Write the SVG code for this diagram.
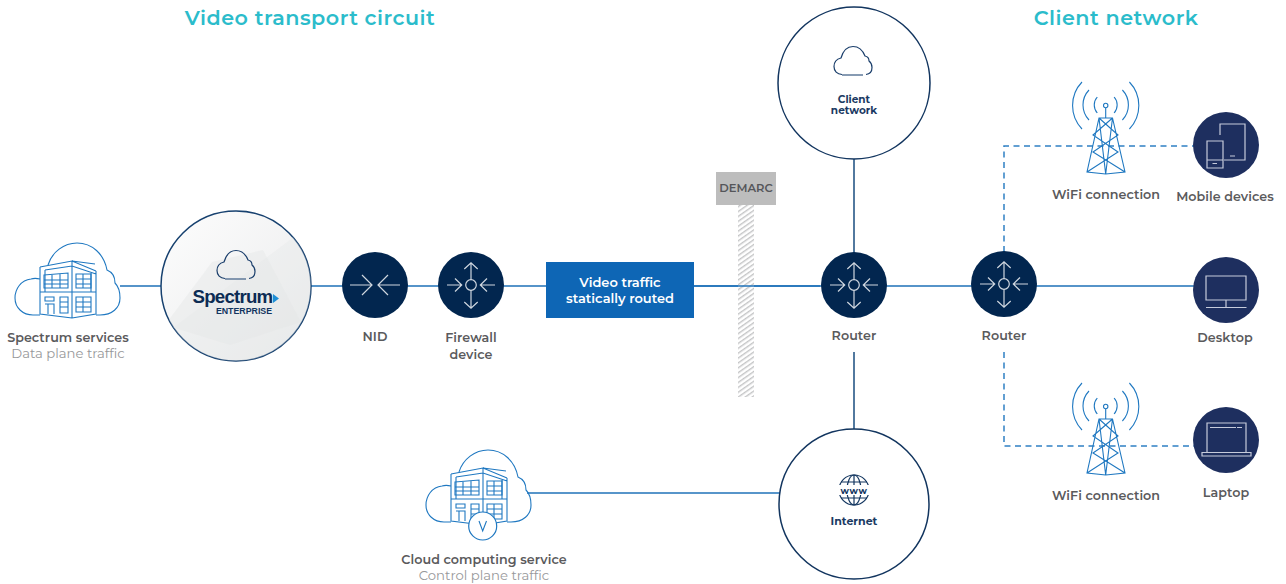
<svg xmlns="http://www.w3.org/2000/svg" width="1286" height="584" viewBox="0 0 1286 584">
<style>
text{font-family:"Montserrat","Inter","Open Sans","Liberation Sans",sans-serif;text-anchor:middle}
.h{font-size:20.700px;font-weight:600;fill:#2bbccb;letter-spacing:.5px}
.l{font-size:12.700px;font-weight:600;fill:#5a5a5c;letter-spacing:.05px}
.s{font-size:13.200px;font-weight:400;fill:#97989a}
.n{font-size:10.500px;font-weight:700;fill:#1b3a63}
.b{font-size:13px;font-weight:600;fill:#fff}
.wire{fill:none;stroke:#1f72b8;stroke-width:1.500}
.dash{fill:none;stroke:#2f80c4;stroke-width:1.500;stroke-dasharray:6 4.500}
.stem{fill:none;stroke:#1a4d80;stroke-width:1.500}
.ring{fill:#fff;stroke:#12355f;stroke-width:1.500}
.dark{fill:#02264f}
.navy{fill:#1e2f5f}
.ico{fill:none;stroke:#cfd6df;stroke-width:1.200}
.dev{fill:none;stroke:#c6cbdb;stroke-width:1.200}
.bl{fill:none;stroke:#1f78c1;stroke-width:1.100}
.cl{fill:none;stroke:#1a3e6b;stroke-width:1.200}
</style>
<defs>
<linearGradient id="sp" x1="0" y1="0" x2="1" y2="1"><stop offset="0" stop-color="#fdfdfd"/><stop offset="1" stop-color="#e9eaeb"/></linearGradient>
<clipPath id="spc"><circle cx="236" cy="286" r="75"/></clipPath>
<pattern id="hatch" width="4" height="4" patternUnits="userSpaceOnUse" patternTransform="rotate(-35)"><rect width="4" height="4" fill="#fff"/><rect width="4" height="1.400" fill="#c4c5c6"/></pattern>
<symbol id="building" overflow="visible" viewBox="0 0 1286 584" width="1286" height="584">
<path class="bl" d="M40 279C36 278 34 278 31 279C21 280 15 289 15 298C15 308 23 315 33 315L40 315M48 265C52 252 64 243 77 243C92 243 104 254 107 270C112 272 115 277 115 283C119 287 120 292 120 298C120 308 112 315 100 315L96 315"/>
<path class="bl" d="M40 267L72 261L96 271M72 261L95 264M40 267V314L72 318L96 314V271M45 270L72 266L96 274M40 292H96M72 261V318M45 270V292M91 273V292"/>
<path class="bl" d="M44 275L68 273V288H44ZM44 280H68M44 284H68M52 274V288M60 274V288M76 274H91V288H76ZM76 279H91M76 284H91M83 274V288M45 297H54V301H45ZM45 304H54V314M48 304V314M60 297H68V313H60ZM60 302H68M60 307H68M76 297H91V312H76ZM76 302H91M76 307H91M83 297V312"/>
</symbol>
<symbol id="tower" overflow="visible" viewBox="0 0 1286 584" width="1286" height="584">
<circle class="bl" cx="1105.700" cy="105.500" r="2.200"/>
<path class="bl" d="M1105.700 108V118M1099 118H1112.500L1125 172L1105.700 174L1087 172ZM1099 118L1118 135L1093 152L1125 172M1112.500 118L1093 135L1118 152L1087 172M1099 118L1105.700 174L1112.500 118"/>
<path class="bl" d="M1097.300 97A12 12 0 0 0 1097.300 113M1114.100 97A12 12 0 0 1 1114.100 113M1089 90A21.750 21.750 0 0 0 1089 120M1122.400 90A21.750 21.750 0 0 1 1122.400 120M1082 82A34 34 0 0 0 1082 129M1129.400 82A34 34 0 0 1 1129.400 129"/>
</symbol>
<symbol id="nid" overflow="visible" viewBox="0 0 66 66" width="66" height="66">
<path class="ico" d="M8 33H30M20 23L30 33L20 43M58 33H36M46 23L36 33L46 43"/>
</symbol>
<symbol id="rt" overflow="visible" viewBox="0 0 66 66" width="66" height="66">
<circle class="ico" cx="33" cy="33" r="5.300"/>
<path class="ico" d="M9 33H23.700M17 26.500L23.700 33L17 39.500M57 33H42.300M49 26.500L42.300 33L49 39.500M33 11V27.700M26.300 17L33 10.700L39.700 17M33 38.300V56M26.300 50L33 56.300L39.700 50"/>
</symbol>
<symbol id="cloud" overflow="visible" viewBox="0 0 41 31" width="41" height="31">
<path class="cl" d="M9 29.500C4 29.500 1 26 1 21.500C1 17 4 14 8 13C10 6 14.500 1.500 20 1.500C26 1.500 30 6 32 11C34.500 11.500 36 13.500 36 16C38 17.500 39 20 39 22.500C39 26 37 29 33 29.500"/>
<path fill="none" stroke="#5f7a9a" stroke-width="1.500" d="M9 30H30"/>
</symbol>
</defs>
<rect width="1286" height="584" fill="#fff"/>
<g id="connectors">
<path class="wire" d="M120 286H162M310 286H1195"/>
<path class="stem" d="M854 158V254M854 352V430"/>
<path class="wire" d="M527 493H780"/>
<path class="dash" d="M1004 252V146H1195M1004 352V446H1195"/>
</g>
<g id="demarc">
<rect x="738" y="205" width="16" height="192" fill="url(#hatch)"/>
<path d="M694 286H820" class="wire"/>
<rect x="716" y="172" width="60" height="33" fill="#bdbdbd"/>
<text x="746" y="192" style="font-size:11.500px;font-weight:600;fill:#55565a">DEMARC</text>
</g>
<g id="title-video"><text class="h" x="310" y="25">Video transport circuit</text></g>
<g id="title-client"><text class="h" x="1116" y="25">Client network</text></g>
<g id="spectrum-services">
<use href="#building"/>
<text class="l" x="68" y="342">Spectrum services</text>
<text class="s" x="68" y="358">Data plane traffic</text>
</g>
<g id="spectrum-enterprise">
<circle cx="236" cy="286" r="75" fill="url(#sp)" stroke="#17416f" stroke-width="1.500"/>
<g clip-path="url(#spc)"><path d="M150 345L290 240L320 205L320 370L200 370Z" fill="#e6e7e8" opacity=".35"/><path d="M212 262L263 250L301 322L230 345L165 325Z" fill="#e4e5e6" opacity=".4"/></g>
<use href="#cloud" x="216" y="249"/>
<text x="232.500" y="303" style="font-family:'Liberation Sans',sans-serif;font-size:18.700px;font-weight:700;fill:#0c2c54;letter-spacing:-.8px">Spectrum</text>
<path d="M273 294L279 298.500L273 303Z" fill="#1f8fd6"/>
<text x="244" y="314" style="font-family:'Liberation Sans',sans-serif;font-size:8.800px;font-weight:700;fill:#12355f">ENTERPRISE</text>
</g>
<g id="nid-node"><circle class="dark" cx="375" cy="285" r="33"/><use href="#nid" x="342" y="252"/><text class="l" x="375" y="341">NID</text></g>
<g id="firewall"><circle class="dark" cx="471" cy="285" r="33"/><use href="#rt" x="438" y="252"/><text class="l" x="471" y="342">Firewall</text><text class="l" x="471" y="359">device</text></g>
<g id="video-traffic"><rect x="546" y="262" width="148" height="56" fill="#0e66b5"/><text class="b" x="620" y="287">Video traffic</text><text class="b" x="620" y="303">statically routed</text></g>
<g id="client-network"><circle class="ring" cx="854" cy="83" r="76"/><use href="#cloud" x="833" y="45"/><text class="n" x="854" y="103">Client</text><text class="n" x="854" y="114">network</text></g>
<g id="router-1"><circle class="dark" cx="854" cy="285" r="33"/><use href="#rt" x="821" y="252"/><text class="l" x="854" y="340">Router</text></g>
<g id="router-2"><circle class="dark" cx="1004" cy="284" r="33"/><use href="#rt" x="971" y="251"/><text class="l" x="1004" y="340">Router</text></g>
<g id="internet"><circle class="ring" cx="854" cy="504" r="75"/>
<circle cx="854" cy="490" r="15" fill="none" stroke="#12355f" stroke-width="1.200"/><ellipse cx="854" cy="490" rx="7" ry="15" fill="none" stroke="#12355f" stroke-width="1.200"/><path d="M854 475V505M841 482H867M841 498H867" stroke="#12355f" stroke-width="1.200" fill="none"/><rect x="838" y="485" width="32" height="10" fill="#fff"/><text x="854" y="494" style="font-size:9px;font-weight:700;fill:#12355f;letter-spacing:.6px">www</text>
<text class="n" x="854" y="525" style="font-size:11px">Internet</text></g>
<g id="cloud-computing"><use href="#building" x="411" y="207"/><circle cx="482.700" cy="526" r="14" fill="#fff" stroke="#1f78c1" stroke-width="1.200"/><path class="bl" d="M479 521L482.700 531L486.500 521"/><text class="l" x="484" y="564">Cloud computing service</text><text class="s" x="484" y="580">Control plane traffic</text></g>
<g id="wifi-1"><use href="#tower"/><text class="l" x="1106" y="199">WiFi connection</text></g>
<g id="wifi-2"><use href="#tower" y="301"/><text class="l" x="1106" y="500">WiFi connection</text></g>
<g id="mobile"><circle class="navy" cx="1226" cy="145" r="33"/><path class="dev" d="M1220 135V124H1245V160H1224M1207 141H1223V168H1207ZM1207 160H1223M1212.500 163.500H1217M1230 156H1235"/><text class="l" x="1225" y="201">Mobile devices</text></g>
<g id="desktop"><circle class="navy" cx="1226" cy="290" r="33"/><path class="dev" d="M1206 276H1246V300H1206ZM1226 300V307M1206 307.500H1246.500"/><text class="l" x="1225" y="342">Desktop</text></g>
<g id="laptop"><circle class="navy" cx="1226" cy="440" r="33"/><path class="dev" d="M1207 452V423H1246V452M1202 452.500H1251V456H1202ZM1210 427.500H1236M1237 427.500H1242"/><text class="l" x="1226" y="497">Laptop</text></g>
</svg>
